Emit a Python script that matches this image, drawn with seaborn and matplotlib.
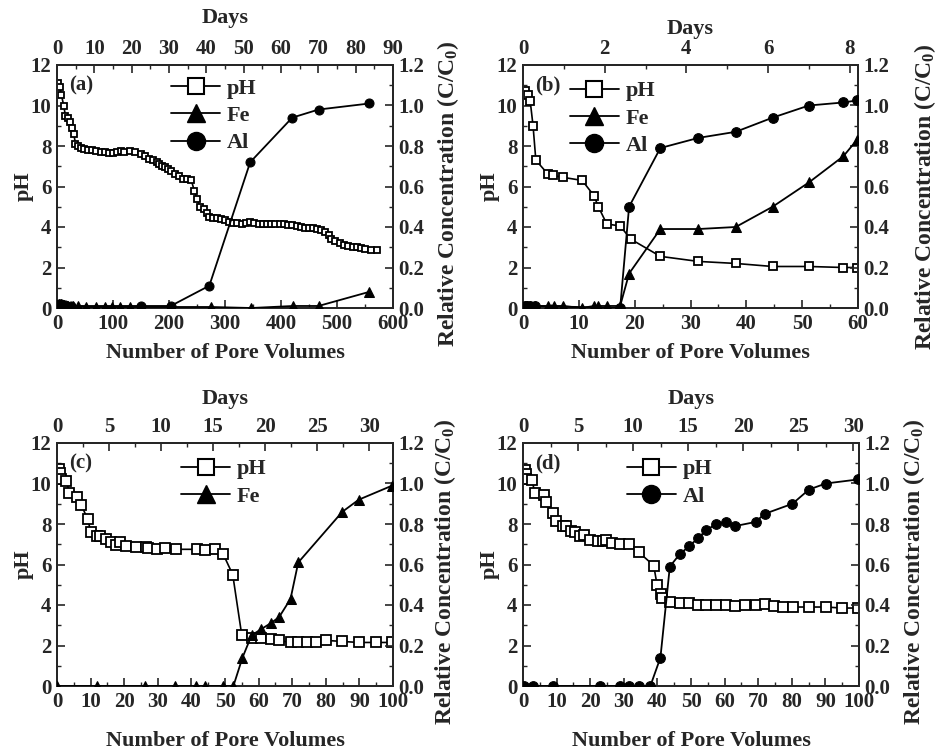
import numpy as np
import pandas as pd
import matplotlib
matplotlib.use("Agg")
import matplotlib.pyplot as plt
from matplotlib.lines import Line2D
from matplotlib.ticker import MultipleLocator
import seaborn as sns

# ---------------- data ----------------
# Panel (a)
a_ph_x = [2, 5, 8, 12, 15, 20, 23, 27, 30, 33, 37, 42, 48, 55, 62, 70, 78, 85, 92, 100,
          108, 115, 120, 130, 140, 150, 158, 165, 172, 178, 183, 188, 193, 198, 203, 210,
          218, 225, 232, 240, 245, 250, 255, 262, 268, 272, 278, 285, 292, 300, 308, 315,
          322, 330, 338, 345, 352, 360, 368, 375, 383, 390, 398, 405, 412, 420, 428, 435,
          442, 450, 458, 465, 472, 478, 485, 490, 497, 505, 512, 520, 528, 535, 542, 550,
          560, 572]
a_ph_y = [11.1, 10.9, 10.5, 10.0, 9.5, 9.4, 9.2, 8.9, 8.6, 8.1, 8.0, 7.9, 7.85, 7.8, 7.8,
          7.75, 7.7, 7.7, 7.65, 7.65, 7.7, 7.75, 7.7, 7.75, 7.7, 7.6, 7.5, 7.35, 7.3, 7.2,
          7.1, 7.0, 6.95, 6.85, 6.75, 6.6, 6.5, 6.35, 6.35, 6.3, 5.8, 5.4, 5.0, 4.9, 4.7,
          4.5, 4.45, 4.45, 4.4, 4.35, 4.25, 4.2, 4.2, 4.15, 4.2, 4.25, 4.2, 4.15, 4.15, 4.15,
          4.15, 4.15, 4.15, 4.15, 4.1, 4.1, 4.05, 4.0, 3.95, 3.95, 3.95, 3.9, 3.85, 3.75,
          3.6, 3.4, 3.3, 3.2, 3.1, 3.05, 3.0, 3.0, 2.95, 2.9, 2.85, 2.85]
a_fe_x = [3, 8, 13, 20, 28, 38, 52, 70, 85, 98, 112, 130, 275, 347, 422, 467, 558]
a_fe_y = [0.02, 0.02, 0.015, 0.01, 0.01, 0.01, 0.005, 0.005, 0.005, 0.005, 0.005, 0.005,
          0.005, 0.0, 0.01, 0.01, 0.08]
a_al_x = [3, 8, 15, 25, 150, 203, 272, 345, 420, 467, 558]
a_al_y = [0.02, 0.02, 0.015, 0.01, 0.01, 0.01, 0.11, 0.72, 0.94, 0.98, 1.01]

# Panel (b)
b_ph_x = [0.3, 0.9, 1.3, 1.8, 2.3, 4.5, 5.3, 7.2, 10.6, 12.7, 13.5, 15.0, 17.4, 19.3,
          24.6, 31.4, 38.1, 44.7, 51.2, 57.4, 59.8]
b_ph_y = [10.7, 10.5, 10.2, 9.0, 7.3, 6.6, 6.55, 6.45, 6.3, 5.55, 5.0, 4.15, 4.05, 3.4,
          2.55, 2.3, 2.2, 2.05, 2.05, 2.0, 2.0]
b_fe_x = [0.3, 0.8, 1.3, 2.2, 4.5, 5.5, 7.2, 10.5, 12.7, 13.5, 15.0, 17.4, 19.0, 24.6,
          31.4, 38.1, 44.7, 51.2, 57.4, 59.8]
b_fe_y = [0.01, 0.01, 0.01, 0.01, 0.01, 0.01, 0.01, 0.0, 0.01, 0.01, 0.01, 0.01, 0.17,
          0.39, 0.39, 0.40, 0.50, 0.62, 0.75, 0.83]
b_al_x = [0.3, 0.8, 1.3, 2.2, 17.4, 19.0, 24.6, 31.4, 38.1, 44.7, 51.2, 57.4, 59.8]
b_al_y = [0.01, 0.01, 0.01, 0.01, 0.0, 0.50, 0.79, 0.84, 0.87, 0.94, 1.0, 1.015, 1.025]

# Panel (c)
c_ph_x = [0.5, 0.8, 1.3, 2.8, 3.7, 6.1, 7.2, 9.1, 10.1, 11.9, 12.9, 14.7, 16.0, 17.6,
          18.8, 20.5, 23.6, 26.4, 27.2, 29.7, 32.2, 35.4, 41.6, 43.9, 47.0, 49.5, 52.3,
          55.0, 57.9, 60.7, 63.6, 66.1, 69.5, 71.8, 74.3, 77.0, 80.2, 84.9, 89.8, 94.9,
          99.8]
c_ph_y = [10.7, 10.5, 10.2, 10.1, 9.55, 9.35, 8.95, 8.25, 7.6, 7.4, 7.4, 7.25, 7.1, 6.95,
          7.1, 6.9, 6.85, 6.85, 6.8, 6.75, 6.8, 6.75, 6.75, 6.7, 6.75, 6.5, 5.5, 2.5, 2.35,
          2.35, 2.3, 2.25, 2.15, 2.15, 2.15, 2.15, 2.25, 2.2, 2.15, 2.15, 2.15]
c_fe_x = [0.0, 12.0, 26.3, 35.2, 41.3, 43.9, 49.5, 52.5, 55.2, 57.9, 60.7, 63.6, 66.1,
          69.5, 71.8, 84.9, 89.8, 99.8]
c_fe_y = [0.0, 0.0, 0.0, 0.0, 0.0, 0.0, 0.0, 0.0, 0.14, 0.25, 0.28, 0.31, 0.34, 0.43, 0.61,
          0.86, 0.92, 0.99]

# Panel (d)
d_ph_x = [0.5, 0.8, 1.0, 2.7, 3.5, 6.2, 6.9, 8.9, 9.9, 11.9, 12.9, 14.4, 15.5, 16.9,
          18.3, 20.0, 22.3, 23.8, 24.8, 26.6, 29.0, 31.5, 34.5, 38.9, 39.9, 41.2, 41.4,
          43.7, 46.6, 49.4, 52.1, 54.6, 57.5, 60.5, 63.2, 66.1, 69.2, 71.9, 74.6, 77.4,
          80.4, 85.1, 90.1, 95.0, 99.7]
d_ph_y = [10.65, 10.45, 10.2, 10.15, 9.55, 9.45, 9.1, 8.55, 8.15, 7.9, 7.9, 7.65, 7.6,
          7.4, 7.45, 7.2, 7.15, 7.15, 7.2, 7.05, 7.0, 7.0, 6.6, 5.95, 5.0, 4.55, 4.35,
          4.15, 4.1, 4.1, 4.0, 4.0, 4.0, 4.0, 3.95, 4.0, 4.0, 4.05, 3.95, 3.9, 3.9, 3.9,
          3.9, 3.85, 3.85]
d_al_x = [0.3, 3.0, 9.0, 23.0, 29.0, 31.5, 34.5, 37.9, 40.9, 43.7, 46.6, 49.4, 52.1, 54.6,
          57.5, 60.5, 63.2, 69.2, 71.9, 80.2, 85.1, 90.1, 99.7]
d_al_y = [0.0, 0.0, 0.0, 0.0, 0.0, 0.0, 0.0, 0.0, 0.14, 0.59, 0.65, 0.69, 0.73, 0.77, 0.80,
          0.81, 0.79, 0.81, 0.85, 0.90, 0.97, 1.0, 1.02]

panels = [
    dict(tag="(a)", ph=(a_ph_x, a_ph_y), fe=(a_fe_x, a_fe_y), al=(a_al_x, a_al_y),
         xmax=600, xmaj=100, xmin=50, dmax=90, dmaj=10, dmin=5,
         pos=[57, 65, 393, 308], leg=(0.30, 1.0), sq=5.0, ms=6.5,
         xlabpad=7, daypad=12, rlab=(1.125, 0.47)),
    dict(tag="(b)", ph=(b_ph_x, b_ph_y), fe=(b_fe_x, b_fe_y), al=(b_al_x, b_al_y),
         xmax=60, xmaj=10, xmin=5, dmax=8.2, dmaj=2, dmin=1,
         pos=[523, 65, 858, 308], leg=(0.10, 0.99), sq=6.0, ms=7.0,
         xlabpad=7, daypad=4, rlab=(1.16, 0.46)),
    dict(tag="(c)", ph=(c_ph_x, c_ph_y), fe=(c_fe_x, c_fe_y), al=None,
         xmax=100, xmaj=10, xmin=5, dmax=32.3, dmaj=5, dmin=2.5,
         pos=[57, 443, 393, 686], leg=(0.33, 0.99), sq=6.5, ms=7.0,
         xlabpad=14, daypad=10, rlab=(1.115, 0.47)),
    dict(tag="(d)", ph=(d_ph_x, d_ph_y), fe=None, al=(d_al_x, d_al_y),
         xmax=100, xmaj=10, xmin=5, dmax=30.5, dmaj=5, dmin=2.5,
         pos=[523, 443, 859, 686], leg=(0.27, 0.99), sq=6.5, ms=7.0,
         xlabpad=14, daypad=10, rlab=(1.125, 0.47)),
]

# ---------------- style ----------------
sns.set_style("ticks")
plt.rcParams['font.family'] = ['Liberation Serif', 'DejaVu Serif']
plt.rcParams['font.weight'] = 'bold'
plt.rcParams['axes.labelweight'] = 'bold'
plt.rcParams['mathtext.fontset'] = 'custom'
plt.rcParams['mathtext.rm'] = 'Liberation Serif:bold'
plt.rcParams['mathtext.it'] = 'Liberation Serif:bold'
plt.rcParams['mathtext.bf'] = 'Liberation Serif:bold'
plt.rcParams['mathtext.default'] = 'rm'

W, H = 936, 750
fig = plt.figure(figsize=(W / 100, H / 100), dpi=100)

TICK = 15
LAB = 16
RLAB = 17

for p in panels:
    l, t, r, b = p["pos"]
    ax = fig.add_axes([l / W, 1 - b / H, (r - l) / W, (b - t) / H])
    axr = ax.twinx()

    phx, phy = p["ph"]
    df = pd.DataFrame({"x": phx, "y": phy})
    sns.lineplot(data=df, x="x", y="y", ax=ax, sort=False, estimator=None,
                 color="black", lw=1.2, marker="s", markersize=p["sq"],
                 markerfacecolor="white", markeredgecolor="black",
                 markeredgewidth=1.3, zorder=3)
    if p["fe"] is not None:
        fx, fy = p["fe"]
        sns.lineplot(x=fx, y=fy, ax=axr, sort=False, estimator=None, color="black",
                     lw=1.3, marker="^", markersize=p["ms"], markerfacecolor="black",
                     markeredgecolor="black", zorder=3)
    if p["al"] is not None:
        lx, ly = p["al"]
        sns.lineplot(x=lx, y=ly, ax=axr, sort=False, estimator=None, color="black",
                     lw=1.3, marker="o", markersize=p["ms"], markerfacecolor="black",
                     markeredgecolor="black", zorder=3)

    ax.set_xlim(0, p["xmax"])
    ax.set_ylim(0, 12)
    axr.set_ylim(0, 1.2)
    ax.xaxis.set_major_locator(MultipleLocator(p["xmaj"]))
    ax.xaxis.set_minor_locator(MultipleLocator(p["xmin"]))
    ax.yaxis.set_major_locator(MultipleLocator(2))
    ax.yaxis.set_minor_locator(MultipleLocator(1))
    axr.yaxis.set_major_locator(MultipleLocator(0.2))
    axr.yaxis.set_minor_locator(MultipleLocator(0.1))
    axr.yaxis.set_major_formatter(matplotlib.ticker.FormatStrFormatter('%.1f'))

    k = p["dmax"] / p["xmax"]
    axt = ax.secondary_xaxis('top', functions=(lambda x, k=k: x * k, lambda d, k=k: d / k))
    axt.xaxis.set_major_locator(MultipleLocator(p["dmaj"]))
    axt.xaxis.set_minor_locator(MultipleLocator(p["dmin"]))

    for a in (ax, axr, axt):
        a.tick_params(which="major", direction="in", length=6, width=1.2,
                      labelsize=TICK, pad=4)
        a.tick_params(which="minor", direction="in", length=3, width=1.0)
    axr.tick_params(axis="y", which="major", pad=4)
    for sp in list(ax.spines.values()) + list(axr.spines.values()):
        sp.set_linewidth(1.4)
    axt.spines['top'].set_linewidth(1.4)

    for lab in ax.get_xticklabels() + ax.get_yticklabels() + axr.get_yticklabels() + axt.get_xticklabels():
        lab.set_fontweight("bold")

    ax.set_xlabel("Number of Pore Volumes", fontsize=LAB, fontweight="bold",
                  labelpad=p["xlabpad"])
    ax.set_ylabel("pH", fontsize=LAB, fontweight="bold", labelpad=-2)
    axr.set_ylabel(r"Relative Concentration (C/C$_0$)", fontsize=RLAB,
                   fontweight="bold")
    axr.yaxis.set_label_coords(*p["rlab"])
    axt.set_xlabel("Days", fontsize=LAB, fontweight="bold", labelpad=p["daypad"])

    ax.text(0.035, 0.955, p["tag"], transform=ax.transAxes, fontsize=TICK,
            fontweight="bold", va="top", ha="left")

    handles = [Line2D([], [], color="black", lw=1.3, marker="s", markersize=11,
                      markerfacecolor="white", markeredgewidth=1.5, label="pH")]
    if p["fe"] is not None:
        handles.append(Line2D([], [], color="black", lw=1.3, marker="^", markersize=13,
                              markerfacecolor="black", label="Fe"))
    if p["al"] is not None:
        handles.append(Line2D([], [], color="black", lw=1.3, marker="o", markersize=13,
                              markerfacecolor="black", label="Al"))
    axr.legend(handles=handles, loc="upper left", bbox_to_anchor=p["leg"], frameon=False,
               prop={"size": LAB, "weight": "bold"}, handlelength=2.2,
               handletextpad=0.3, labelspacing=0.3, borderaxespad=0.2)

fig.savefig("out.png", dpi=100)
